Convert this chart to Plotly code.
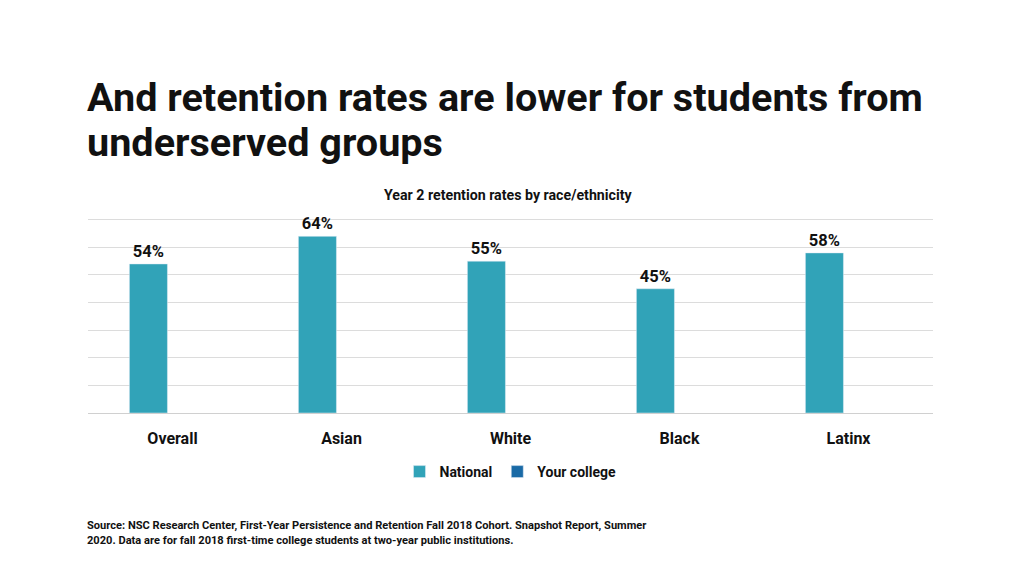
import plotly.graph_objects as go

categories = ['Overall', 'Asian', 'White', 'Black', 'Latinx']
national = [54, 64, 55, 45, 58]
your_college = [None, None, None, None, None]

title_lines = ['And retention rates are lower for students from', 'underserved groups']
subtitle = 'Year 2 retention rates by race/ethnicity'
source_lines = [
    'Source: NSC Research Center, First-Year Persistence and Retention Fall 2018 Cohort. Snapshot Report, Summer',
    '2020. Data are for fall 2018 first-time college students at two-year public institutions.',
]

FONT = 'Roboto'
# the page body adds an 8px margin, so the figure is drawn 8px smaller and shifted
OFF = 8
PLOT_TOP, PLOT_BOTTOM = 217, 413
PH = PLOT_BOTTOM - PLOT_TOP


def py(y_px):
    # page pixel row -> paper coordinate
    return (PLOT_BOTTOM - y_px) / PH


fig = go.Figure()
fig.add_trace(go.Bar(
    x=categories, y=national, name='National',
    marker_color='#31a3b8',
    text=[f'{v}%' for v in national], textposition='outside',
    textfont=dict(family=FONT, size=16.5, color='#111111', weight='bold'),
    cliponaxis=False,
))
fig.add_trace(go.Bar(
    x=categories, y=your_college, name='Your college',
    marker_color='#1a6aa6',
))

fig.update_layout(
    width=1024 - OFF, height=576 - OFF,
    paper_bgcolor='white', plot_bgcolor='white',
    margin=dict(l=88 - OFF, r=91, t=PLOT_TOP - OFF, b=576 - PLOT_BOTTOM),
    barmode='group', bargap=0.43, bargroupgap=0.21,
    font=dict(family=FONT, color='#111111'),
    showlegend=True,
    legend=dict(
        orientation='h', x=0.5, xanchor='center', y=py(456), yanchor='top',
        font=dict(family=FONT, size=14, color='#111111', weight='bold'),
        itemwidth=30, traceorder='normal',
    ),
    xaxis=dict(
        showgrid=False, showline=False, zeroline=False,
        tickfont=dict(family=FONT, size=16, color='#111111', weight='bold'),
        ticks='outside', ticklen=11, tickcolor='rgba(0,0,0,0)',
    ),
    yaxis=dict(
        range=[0, 71], dtick=10, showticklabels=False,
        showgrid=True, gridcolor='#dcdcdc', gridwidth=1,
        zeroline=True, zerolinecolor='#d0d0d0', zerolinewidth=1,
    ),
)

# title, subtitle and source as annotations
for line, base in zip(title_lines, [114, 159]):
    fig.add_annotation(text=line, xref='paper', yref='paper', x=-0.004, y=py(base),
                       xanchor='left', yanchor='bottom', showarrow=False, yshift=-9,
                       font=dict(family=FONT, size=39.6, color='#111111', weight='bold'))
fig.add_annotation(text=subtitle, xref='paper', yref='paper', x=0.498, y=py(195),
                   xanchor='center', yanchor='middle', showarrow=False,
                   font=dict(family=FONT, size=14.2, color='#111111', weight='bold'))
for i, line in enumerate(source_lines):
    fig.add_annotation(text=line, xref='paper', yref='paper', x=-0.004,
                       y=py(525 + 15 * i),
                       xanchor='left', yanchor='middle', showarrow=False,
                       font=dict(family=FONT, size=11.1, color='#111111', weight='bold'))

fig.write_html('out.html')
